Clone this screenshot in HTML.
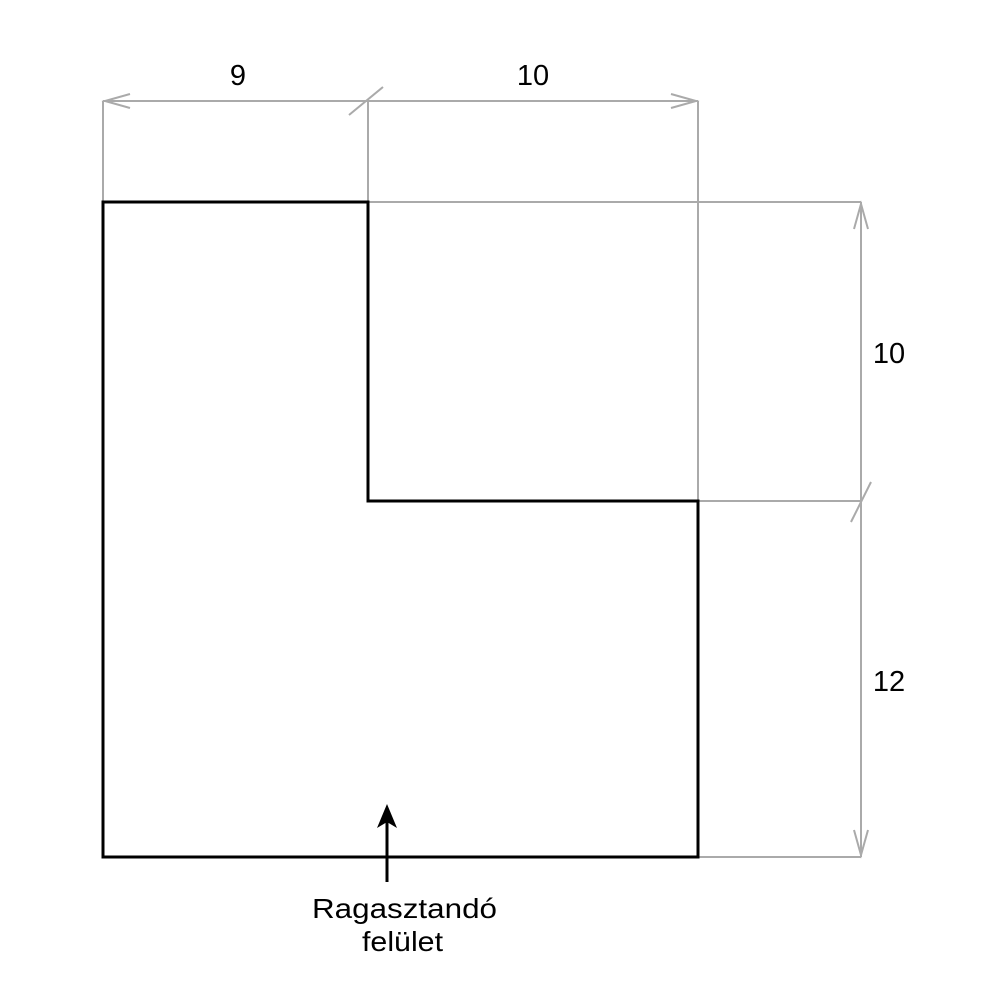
<!DOCTYPE html>
<html><head><meta charset="utf-8"><style>body{margin:0;background:#fff}</style></head><body>
<svg width="1000" height="1000" viewBox="0 0 1000 1000" xmlns="http://www.w3.org/2000/svg" font-family="Liberation Sans, sans-serif">
<g stroke="#aaa" stroke-width="2" fill="none">
<line x1="103" y1="101" x2="698" y2="101"/>
<line x1="103" y1="101" x2="103" y2="202"/>
<line x1="368" y1="101" x2="368" y2="202"/>
<line x1="698" y1="101" x2="698" y2="502"/>
<line x1="368" y1="202" x2="861" y2="202"/>
<line x1="698" y1="501" x2="861" y2="501"/>
<line x1="698" y1="857" x2="861" y2="857"/>
<line x1="861" y1="202" x2="861" y2="857"/>
<line x1="349" y1="115" x2="383" y2="87"/>
<line x1="851" y1="522" x2="871" y2="482"/>
<polyline points="130,94 105,101 130,108"/>
<polyline points="671,94 696,101 671,108"/>
<polyline points="854,229 861,204 868,229"/>
<polyline points="854,830 861,855 868,830"/>
</g>
<path d="M103 202 H368 V501 H698 V857 H103 Z" fill="none" stroke="#000" stroke-width="3"/>
<line x1="387" y1="882" x2="387" y2="820" stroke="#000" stroke-width="3"/>
<polygon points="387,804 377,828 387,822 397,828" fill="#000"/>
<g font-size="29" fill="#000" text-anchor="middle">
<text x="238" y="85">9</text>
<text x="533" y="85">10</text>
<text x="889" y="363">10</text>
<text x="889" y="691">12</text>
</g>
<g font-size="28" fill="#000">
<text x="312" y="918" textLength="185" lengthAdjust="spacingAndGlyphs">Ragasztandó</text>
<text x="362" y="951" textLength="81" lengthAdjust="spacingAndGlyphs">felület</text>
</g>
</svg>
</body></html>
